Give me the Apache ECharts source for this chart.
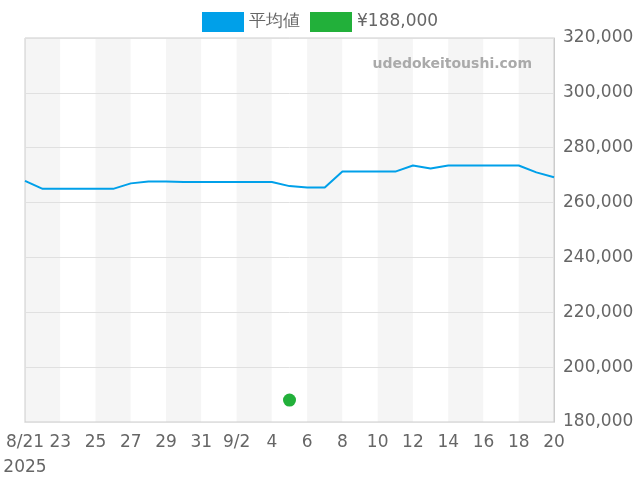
<!DOCTYPE html><html><head><meta charset="utf-8"><script src="https://cdn.jsdelivr.net/npm/echarts@6/dist/echarts.min.js"></script></head><body style="margin:0"><div id="c" style="width:640px;height:480px"></div><script>
const dates=['8/21','8/22','8/23','8/24','8/25','8/26','8/27','8/28','8/29','8/30','8/31','9/1','9/2','9/3','9/4','9/5','9/6','9/7','9/8','9/9','9/10','9/11','9/12','9/13','9/14','9/15','9/16','9/17','9/18','9/19','9/20'];
const labels=['8/21\n2025','22','23','24','25','26','27','28','29','30','31','1','9/2','3','4','5','6','7','8','9','10','11','12','13','14','15','16','17','18','19','20'];
const avg=[267900,265000,265000,265000,265000,265000,267000,267700,267700,267500,267500,267500,267500,267500,267500,266000,265500,265500,271300,271300,271300,271300,273500,272400,273500,273500,273500,273500,273500,271000,269200];
const spot=[[15,188000]];
const F='DejaVu Sans';
const c=echarts.init(document.getElementById('c'));
c.setOption({animation:false,textStyle:{fontFamily:F},
legend:{top:7,left:197,itemWidth:42,itemHeight:20,itemGap:10,textStyle:{fontSize:17,color:'#666',fontFamily:F},data:[{name:'平均値',icon:'rect'},{name:'¥188,000',icon:'rect'}]},
grid:{left:25,right:86,top:38,bottom:58,show:true,borderColor:'#ccc',borderWidth:1,z:3},
graphic:[{type:'text',right:108,top:57,z:100,style:{text:'udedokeitoushi.com',fill:'#aaa',font:'bold 14px "DejaVu Sans"'}}],
xAxis:{type:'category',data:dates,boundaryGap:false,z:1,
axisLine:{lineStyle:{color:'#ccc'}},axisTick:{show:false},
axisLabel:{interval:1,color:'#666',fontSize:17,lineHeight:25,formatter:(v,i)=>labels[i]},
splitArea:{show:true,areaStyle:{color:['#f5f5f5','#fff']}},splitLine:{show:false}},
yAxis:{type:'value',position:'right',min:180000,max:320000,interval:20000,z:4,
axisLine:{show:true,lineStyle:{color:'#ccc'}},axisLabel:{color:'#666',fontSize:17,margin:9,formatter:v=>v.toLocaleString('en-US')},
splitLine:{lineStyle:{color:'#e0e0e0'}}},
series:[{name:'平均値',type:'line',data:avg,symbol:'none',itemStyle:{color:'#00a0e9'},lineStyle:{width:2},z:5},
{name:'¥188,000',type:'scatter',data:spot,symbolSize:13,itemStyle:{color:'#22b03a',opacity:1},z:6}]});
</script></body></html>
